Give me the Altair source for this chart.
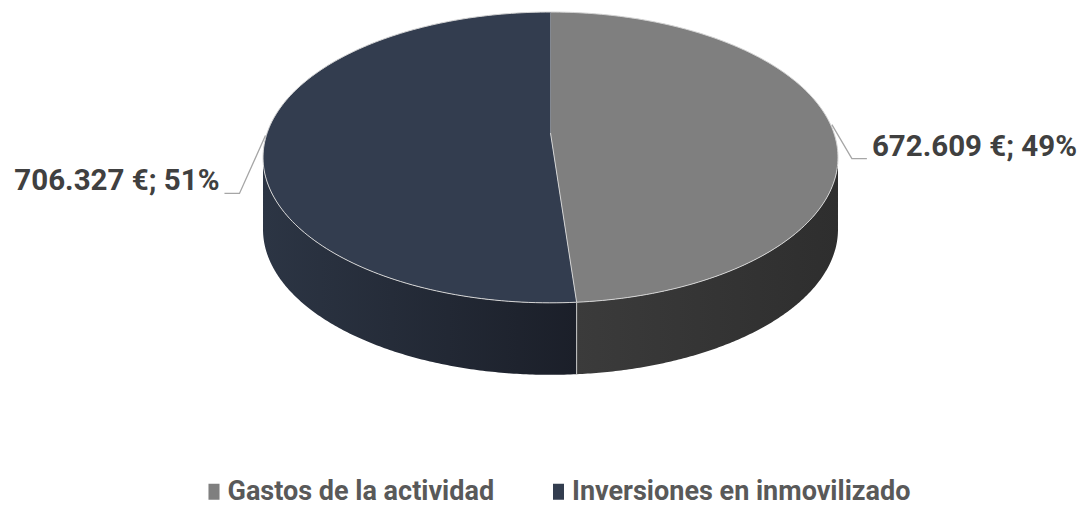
import math
import altair as alt
import pandas as pd

# ---------------- data ----------------
categories = ["Gastos de la actividad", "Inversiones en inmovilizado"]
values = [672609, 706327]
slice_order = [0, 1]

# ---------------- style ----------------
top_colors = ["#7f7f7f", "#333d4f"]
side_gradients = {
    "Gastos de la actividad": ["#3b3b3b", "#2e2e2e"],
    "Inversiones en inmovilizado": ["#2c3544", "#1b1f29"],
}
W, H = 1072, 499
CX, CY = 542.5, 125.0      # projected pie centre (plot px)
RX, SY = 283.4, 141.3      # horizontal / vertical radius factors
K = 0.168                  # perspective factor
DEPTH = 72.0               # pie thickness
N = 160
TW = math.acos(-K)         # angle of the widest (silhouette) point
FONT = "Roboto"

df = pd.DataFrame({"cat": categories, "value": values, "k": slice_order})

xs = alt.Scale(domain=[0, W], nice=False, zero=False)
ys = alt.Scale(domain=[0, H], nice=False, zero=False, reverse=True)


def PX(a):
    return f"{CX} + {RX}*sin({a})/(1+{K}*cos({a}))"


def PY(a):
    return f"{CY} - {SY}*cos({a})/(1+{K}*cos({a}))"


base = (
    alt.Chart(df)
    .transform_joinaggregate(total="sum(value)")
    .transform_window(cum="sum(value)", sort=[alt.SortField("k")], frame=[None, 0])
    .transform_calculate(a0="2*PI*(datum.cum-datum.value)/datum.total")
    .transform_calculate(a1="2*PI*datum.cum/datum.total")
)

# ---- top faces ----
top = (
    base.transform_calculate(idx=f"sequence(0, {N + 2})")
    .transform_flatten(["idx"])
    .transform_calculate(th=f"datum.a0 + (datum.a1-datum.a0)*(datum.idx-1)/{N}")
    .transform_calculate(px=f"datum.idx==0 ? {CX} : " + PX("datum.th"))
    .transform_calculate(py=f"datum.idx==0 ? {CY} : " + PY("datum.th"))
    .mark_line(filled=True, stroke="#d4d4d4", strokeWidth=1, strokeJoin="round")
    .encode(
        x=alt.X("px:Q", scale=xs, axis=None),
        y=alt.Y("py:Q", scale=ys, axis=None),
        color=alt.Color(
            "cat:N",
            scale=alt.Scale(domain=categories, range=top_colors),
            legend=alt.Legend(
                title=None,
                orient="none",
                direction="horizontal",
                legendX=192.5,
                legendY=470,
                symbolType="M-0.69,-1H0.69V1H-0.69Z",
                symbolSize=256,
                symbolStrokeWidth=0,
                symbolOpacity=1,
                labelFont=FONT,
                labelFontSize=27,
                labelFontWeight="bold",
                labelColor="#595959",
                labelOffset=0,
                columnPadding=50.5,
                padding=0,
                labelLimit=500,
            ),
        ),
        order="idx:Q",
        detail="cat:N",
    )
)

# ---- side walls ----
side_base = (
    base.transform_calculate(s0=f"max(datum.a0, {TW})")
    .transform_calculate(s1=f"min(datum.a1, {2 * math.pi - TW})")
    .transform_filter("datum.s1 > datum.s0")
    .transform_calculate(idx=f"sequence(0, {N + 1})")
    .transform_flatten(["idx"])
    .transform_calculate(th=f"datum.s0 + (datum.s1-datum.s0)*datum.idx/{N}")
    .transform_calculate(px=PX("datum.th"))
    .transform_calculate(py=PY("datum.th"))
    .transform_calculate(py2=f"datum.py + {DEPTH}")
)

sides = []
for cat in categories:
    c0, c1 = side_gradients[cat]
    sides.append(
        side_base.transform_filter(alt.datum.cat == cat)
        .mark_area(
            color=alt.Gradient(
                gradient="linear",
                stops=[alt.GradientStop(color=c0, offset=0), alt.GradientStop(color=c1, offset=1)],
                x1=0, x2=1, y1=0, y2=0,
            )
        )
        .encode(
            x=alt.X("px:Q", scale=xs, axis=None),
            y=alt.Y("py:Q", scale=ys, axis=None),
            y2="py2:Q",
        )
    )

# ---- vertical split edge on side ----
split = (
    base.transform_filter(f"datum.a1 > {TW} && datum.a1 < {2 * math.pi - TW}")
    .transform_calculate(px=PX("datum.a1"))
    .transform_calculate(py=PY("datum.a1"))
    .transform_calculate(py2=f"datum.py + {DEPTH}")
    .mark_rule(color="#c8c8c8", strokeWidth=1)
    .encode(x=alt.X("px:Q", scale=xs, axis=None), y=alt.Y("py:Q", scale=ys, axis=None), y2="py2:Q")
)

# ---- labels with leader lines ----
lab_base = (
    base.transform_calculate(mid="(datum.a0+datum.a1)/2")
    .transform_calculate(sd="sin(datum.mid) >= 0 ? 1 : -1")
    .transform_calculate(ax=PX("datum.mid"))
    .transform_calculate(ay=PY("datum.mid") + " - 3")
    .transform_calculate(ex="datum.ax + datum.sd*(datum.sd > 0 ? 20 : 26)")
    .transform_calculate(ey="datum.ay + (datum.sd > 0 ? 34 : 58)")
    .transform_calculate(fx="datum.ex + datum.sd*15")
    .transform_calculate(
        label="replace(format(datum.value, ','), ',', '.') + ' €; ' + format(datum.value/datum.total, '.0%')"
    )
)

leaders = (
    lab_base.transform_calculate(idx="sequence(0, 3)")
    .transform_flatten(["idx"])
    .transform_calculate(lx="datum.idx==0 ? datum.ax : (datum.idx==1 ? datum.ex : datum.fx)")
    .transform_calculate(ly="datum.idx==0 ? datum.ay : datum.ey")
    .mark_line(color="#a6a6a6", strokeWidth=1.3)
    .encode(
        x=alt.X("lx:Q", scale=xs, axis=None),
        y=alt.Y("ly:Q", scale=ys, axis=None),
        order="idx:Q",
        detail="cat:N",
    )
)

labels = []
for sgn, al in [(1, "left"), (-1, "right")]:
    labels.append(
        lab_base.transform_filter(f"datum.sd == {sgn}")
        .transform_calculate(tx=f"datum.fx + {sgn}*5")
        .transform_calculate(ty="datum.ey - 12")
        .mark_text(
            align=al, baseline="middle", font=FONT, fontSize=29.5, fontWeight="bold", color="#404040"
        )
        .encode(
            x=alt.X("tx:Q", scale=xs, axis=None),
            y=alt.Y("ty:Q", scale=ys, axis=None),
            text="label:N",
        )
    )

chart = (
    alt.layer(*sides, split, top, leaders, *labels)
    .properties(width=W, height=H, padding=0, background="white")
    .configure_view(strokeWidth=0)
)

chart.save("out.html", embed_options={"renderer": "svg", "actions": False})
